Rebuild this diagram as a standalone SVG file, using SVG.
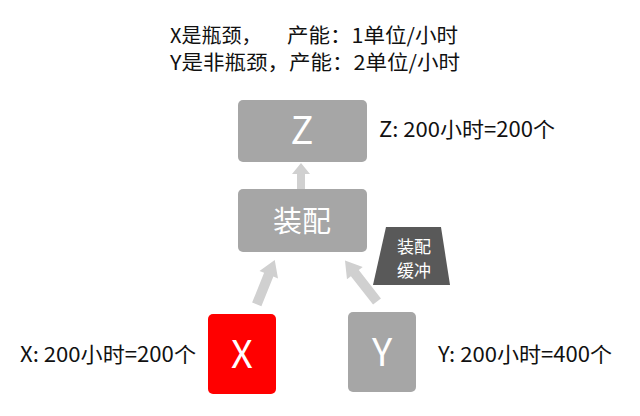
<svg xmlns="http://www.w3.org/2000/svg" width="640" height="416" viewBox="0 0 640 416">
<style>
text{font-family:"Noto Sans CJK SC","Noto Sans",sans-serif}
.t{font-size:21px;fill:#111}
.h{font-size:20px;fill:#111}
.box{fill:#a6a6a6}
.w{fill:#fff;text-anchor:middle}
.arr{fill:#d0d0d0}
</style>
<rect width="640" height="416" fill="#fff"/>
<g id="title">
<text class="h" x="170" y="43">X是瓶颈，</text>
<text class="h" x="287" y="43" textLength="171" lengthAdjust="spacingAndGlyphs">产能：1单位/小时</text>
<text class="h" x="170" y="70" textLength="290" lengthAdjust="spacingAndGlyphs">Y是非瓶颈，产能：2单位/小时</text>
</g>
<g id="connectors">
<polygon class="arr" points="297,190 297,174 292,174 301,163 310,174 305,174 305,190"/>
<g transform="translate(265,284) rotate(22)"><polygon class="arr" points="-5,22 -5,-10 -10,-10 0,-26 10,-10 5,-10 5,22"/></g>
<g transform="translate(361,281) rotate(-38)"><polygon class="arr" points="-5,26 -5,-10 -10,-10 0,-26 10,-10 5,-10 5,26"/></g>
</g>
<g id="Z">
<rect class="box" x="238" y="100" width="129" height="62" rx="5"/>
<text class="w" x="302" y="144" font-size="38">Z</text>
</g>
<g id="assembly">
<rect class="box" x="238" y="189" width="129" height="63" rx="5"/>
<text class="w" x="302" y="232" font-size="29">装配</text>
</g>
<g id="buffer">
<polygon points="386,227 441,227 450,285 373,285" fill="#595959"/>
<text class="w" x="414" y="253" font-size="17">装配</text>
<text class="w" x="414" y="277" font-size="17">缓冲</text>
</g>
<g id="X">
<rect x="208" y="314" width="68" height="80" rx="5" fill="#ff0000"/>
<text class="w" x="242" y="368" font-size="38">X</text>
</g>
<g id="Y">
<rect class="box" x="348" y="312" width="68" height="80" rx="5"/>
<text class="w" x="382" y="366" font-size="38">Y</text>
</g>
<g id="labels">
<text class="t" x="379" y="137" textLength="176" lengthAdjust="spacingAndGlyphs">Z: 200小时=200个</text>
<text class="t" x="20" y="362" textLength="176" lengthAdjust="spacingAndGlyphs">X: 200小时=200个</text>
<text class="t" x="438" y="362" textLength="174" lengthAdjust="spacingAndGlyphs">Y: 200小时=400个</text>
</g>
</svg>
